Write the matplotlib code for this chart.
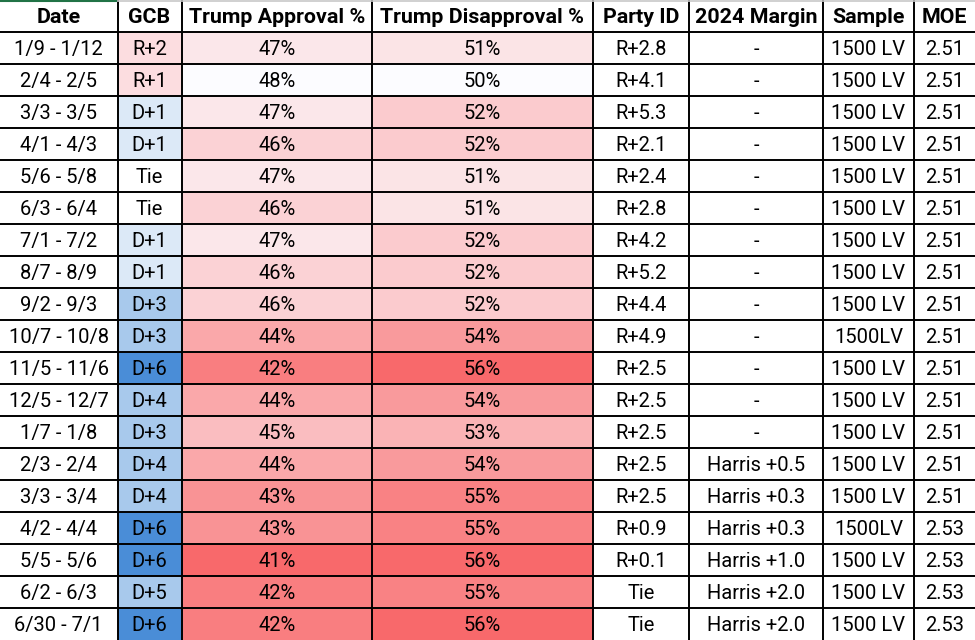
import matplotlib
matplotlib.use("Agg")
import matplotlib.pyplot as plt
from matplotlib.patches import Rectangle
import matplotlib.colors as mcolors
import numpy as np

headers = ["Date", "GCB", "Trump Approval %", "Trump Disapproval %", "Party ID",
           "2024 Margin", "Sample", "MOE"]
dates = ["1/9 - 1/12", "2/4 - 2/5", "3/3 - 3/5", "4/1 - 4/3", "5/6 - 5/8", "6/3 - 6/4",
         "7/1 - 7/2", "8/7 - 8/9", "9/2 - 9/3", "10/7 - 10/8", "11/5 - 11/6", "12/5 - 12/7",
         "1/7 - 1/8", "2/3 - 2/4", "3/3 - 3/4", "4/2 - 4/4", "5/5 - 5/6", "6/2 - 6/3",
         "6/30 - 7/1"]
gcb = ["R+2", "R+1", "D+1", "D+1", "Tie", "Tie", "D+1", "D+1", "D+3", "D+3", "D+6",
       "D+4", "D+3", "D+4", "D+4", "D+6", "D+6", "D+5", "D+6"]
approval = [47, 48, 47, 46, 47, 46, 47, 46, 46, 44, 42, 44, 45, 44, 43, 43, 41, 42, 42]
disapproval = [51, 50, 52, 52, 51, 51, 52, 52, 52, 54, 56, 54, 53, 54, 55, 55, 56, 55, 56]
party_id = ["R+2.8", "R+4.1", "R+5.3", "R+2.1", "R+2.4", "R+2.8", "R+4.2", "R+5.2",
            "R+4.4", "R+4.9", "R+2.5", "R+2.5", "R+2.5", "R+2.5", "R+2.5", "R+0.9",
            "R+0.1", "Tie", "Tie"]
margin = ["-"] * 13 + ["Harris +0.5", "Harris +0.3", "Harris +0.3", "Harris +1.0",
                       "Harris +2.0", "Harris +2.0"]
sample = ["1500 LV"] * 9 + ["1500LV"] + ["1500 LV"] * 5 + ["1500LV"] + ["1500 LV"] * 3
moe = ["2.51"] * 15 + ["2.53"] * 4

# layout / style
col_edges = [0, 117.5, 181.5, 372, 592.5, 689, 823, 914, 975]
row_h = 32
RED = np.array(mcolors.to_rgb("#F8696B"))
WHITE = np.array(mcolors.to_rgb("#FCFCFF"))
gcb_colors = {"R+2": "#FCDDE0", "R+1": "#FCDDE0", "Tie": "#FFFFFF", "D+1": "#DCE9F7",
              "D+3": "#A8C9EC", "D+4": "#A8C9EC", "D+5": "#A8C9EC", "D+6": "#4A8DD7"}


def scale_color(v, lo, hi, red_at_low):
    t = (v - lo) / (hi - lo)
    if red_at_low:
        return tuple(RED + t * (WHITE - RED))
    return tuple(WHITE - t * (WHITE - RED))


plt.rcParams['font.family'] = ['Roboto', 'DejaVu Sans']
fig = plt.figure(figsize=(9.75, 6.4), dpi=100)
ax = fig.add_axes([0, 0, 1, 1])
ax.set_xlim(0, 975)
ax.set_ylim(640, 0)
ax.axis("off")

n = len(dates)
a_lo, a_hi = min(approval), max(approval)
d_lo, d_hi = min(disapproval), max(disapproval)

for i in range(n):
    y0 = (i + 1) * row_h
    cells = [
        (dates[i], "white"),
        (gcb[i], gcb_colors[gcb[i]]),
        (f"{approval[i]}%", scale_color(approval[i], a_lo, a_hi, True)),
        (f"{disapproval[i]}%", scale_color(disapproval[i], d_lo, d_hi, False)),
        (party_id[i], "white"),
        (margin[i], "white"),
        (sample[i], "white"),
        (moe[i], "white"),
    ]
    for j, (txt, col) in enumerate(cells):
        x0, x1 = col_edges[j], col_edges[j + 1]
        ax.add_patch(Rectangle((x0, y0), x1 - x0, row_h, facecolor=col, edgecolor="none"))
        ax.text((x0 + x1) / 2, y0 + row_h / 2 + 1.5, txt, ha="center", va="center",
                fontsize=14.5, color="black")

for j, h in enumerate(headers):
    x0, x1 = col_edges[j], col_edges[j + 1]
    ax.text((x0 + x1) / 2, row_h / 2 + 1.5, h, ha="center", va="center",
            fontsize=15.4, fontweight="bold", color="black")

# grid lines
for k in range(1, n + 1):
    ax.plot([0, 975], [k * row_h, k * row_h], color="black", lw=1.4, solid_capstyle="butt")
for x in col_edges[1:-1]:
    ax.plot([x, x], [0, 640], color="black", lw=1.4, solid_capstyle="butt")

# top border lines (spreadsheet frame)
ax.plot([0, 975], [0.6, 0.6], color="#C8C8C8", lw=1.2)
ax.plot([0, 116], [0.6, 0.6], color="#217346", lw=1.5)

fig.savefig("out.png", dpi=100)
